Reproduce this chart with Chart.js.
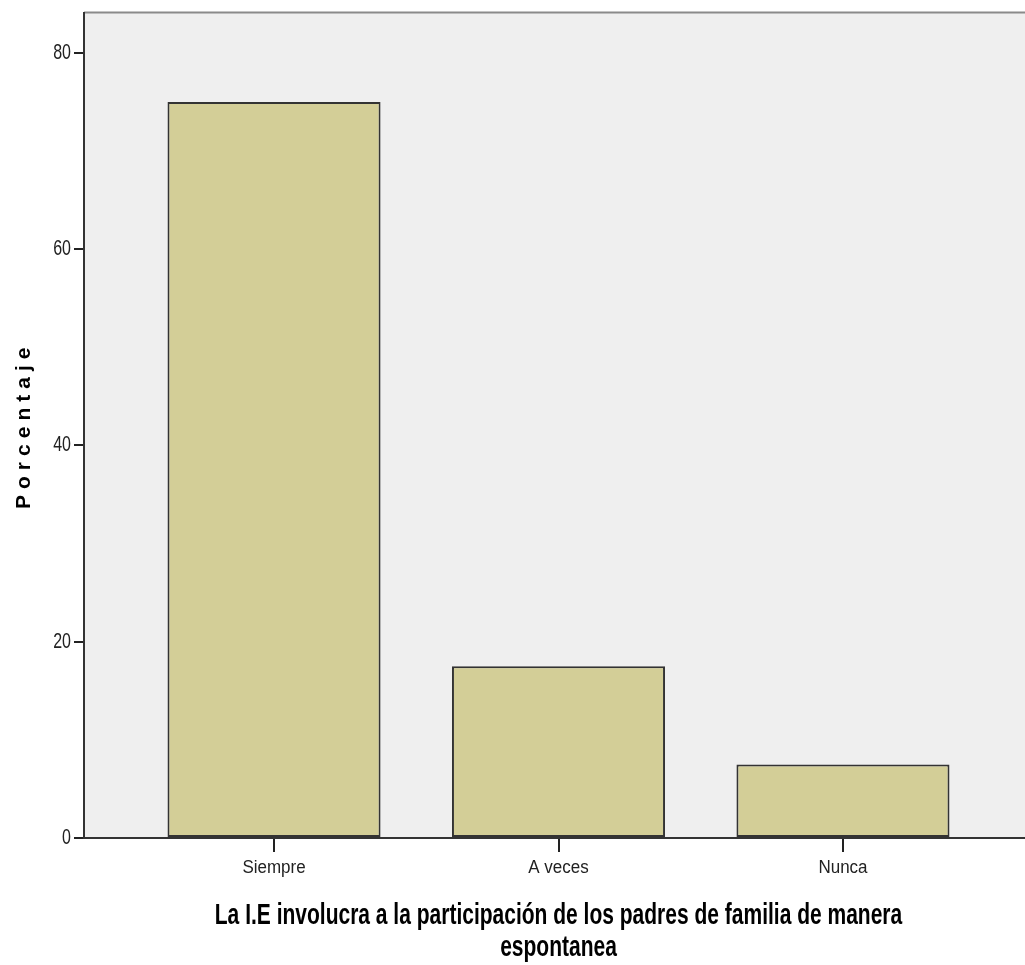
<!DOCTYPE html>
<html>
<head>
<meta charset="utf-8">
<script src="https://cdn.jsdelivr.net/npm/chart.js@4.4.1/dist/chart.umd.min.js"></script>
<style>
  html, body { margin: 0; padding: 0; background: #fff; overflow: hidden; }
</style>
</head>
<body>
<canvas id="frecuencia" width="1040" height="965"></canvas>
<script>
// respuestas y porcentajes
const categorias = ['Siempre', 'A veces', 'Nunca'];
const porcentajes = [75, 17.5, 7.5];
const yTicks = [0, 20, 40, 60, 80];

const fuente = '"Liberation Sans", Arial, sans-serif';

// dibuja el texto estirado en vertical (el original esta estirado)
function estirado(ctx, k, dibujar) {
  const f = ctx.fillText;
  ctx.fillText = function(t, x, y, w) {
    this.save();
    this.translate(x, y);
    this.scale(1, k);
    f.call(this, t, 0, 0, w);
    this.restore();
  };
  dibujar();
  ctx.fillText = f;
}

// fondo gris del area del grafico + titulos como en el original
const fondo = {
  id: 'fondo',
  beforeDraw(chart) {
    const { ctx, chartArea: a } = chart;
    ctx.save();
    ctx.fillStyle = '#efefef';
    ctx.fillRect(a.left, a.top, a.right - a.left, a.bottom - a.top);
    ctx.strokeStyle = '#8a8a8a';
    ctx.lineWidth = 2;
    ctx.beginPath();
    ctx.moveTo(a.left, a.top);
    ctx.lineTo(a.right, a.top);
    ctx.stroke();
    ctx.restore();
  },
  afterLayout(chart) {
    const { x, y } = chart.scales;
    if (y._hecho) return;
    const ctx = chart.ctx;
    const tituloY = y.drawTitle.bind(y);
    y.drawTitle = function() {
      ctx.save();
      ctx.letterSpacing = '6px';
      tituloY();
      ctx.restore();
    };
    const tituloX = x.drawTitle.bind(x);
    x.drawTitle = () => estirado(ctx, 1.4, tituloX);
    const etiquetasX = x.drawLabels.bind(x);
    x.drawLabels = (a) => estirado(ctx, 1.1, () => etiquetasX(a));
    const etiquetasY = y.drawLabels.bind(y);
    y.drawLabels = (a) => estirado(ctx, 1.35, () => etiquetasY(a));
    y._hecho = true;
  }
};

new Chart(document.getElementById('frecuencia'), {
  type: 'bar',
  data: {
    datasets: [{
      label: 'Porcentaje',
      data: porcentajes.map((v, i) => ({ x: i + 1, y: v })),
      backgroundColor: '#d3ce97',
      borderColor: '#333333',
      borderWidth: 2,
      borderSkipped: false,
      categoryPercentage: 1,
      barPercentage: 0.749
    }]
  },
  options: {
    responsive: false,
    animation: false,
    layout: { padding: { top: 5, right: 7, left: 0, bottom: 0 } },
    plugins: { legend: { display: false }, tooltip: { enabled: false } },
    scales: {
      x: {
        type: 'linear',
        offset: false,
        min: 0.332,
        max: 3.668,
        afterBuildTicks: s => { s.ticks = categorias.map((c, i) => ({ value: i + 1 })); },
        afterFit: s => { s.height = 127; },
        ticks: {
          callback: v => categorias[v - 1],
          color: '#222',
          padding: 6,
          maxRotation: 0,
          font: { family: fuente, size: 17 }
        },
        grid: { offset: false, drawOnChartArea: false, tickLength: 14, color: '#222', lineWidth: 2 },
        border: { color: '#333', width: 2 },
        title: {
          display: true,
          text: ['La I.E involucra a la participación de los padres de familia de manera', 'espontanea'],
          color: '#000',
          padding: { top: 0, bottom: 1 },
          font: { family: fuente, size: 21, weight: 'bold', lineHeight: '32px' }
        }
      },
      y: {
        min: 0,
        max: 84.1,
        afterBuildTicks: s => { s.ticks = yTicks.map(v => ({ value: v })); },
        afterFit: s => { s.width = 84; },
        ticks: {
          color: '#222',
          padding: 3,
          font: { family: fuente, size: 16 }
        },
        grid: { drawOnChartArea: false, tickLength: 10, color: '#222', lineWidth: 2 },
        border: { color: '#333', width: 2 },
        title: {
          display: true,
          text: 'Porcentaje',
          color: '#000',
          padding: { top: 12, bottom: 0 },
          font: { family: fuente, size: 21, weight: 'bold' }
        }
      }
    }
  },
  plugins: [fondo]
});
</script>
</body>
</html>
